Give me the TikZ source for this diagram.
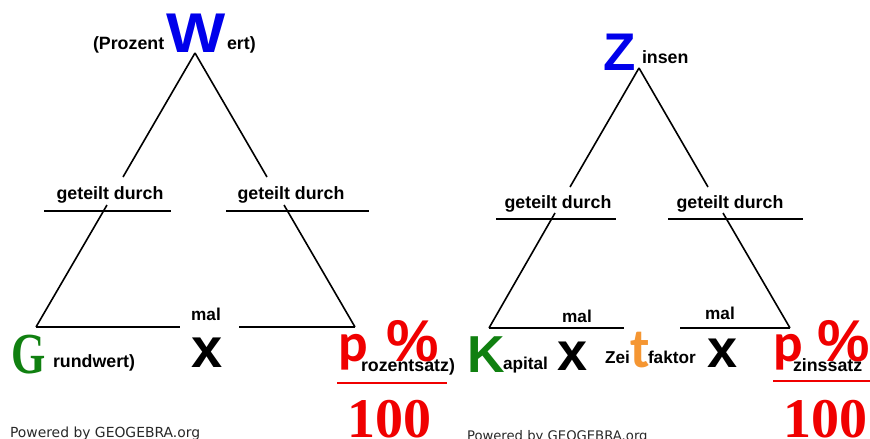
\documentclass[tikz,border=0pt]{standalone}
\usepackage{graphicx}
\usepackage{fontspec}
\setmainfont{Liberation Sans}
\newfontfamily\serfam{Liberation Serif}
\newfontfamily\carlfam{Carlito}
\newfontfamily\dvsfam{DejaVu Sans}
\definecolor{wblue}{RGB}{0,0,235}
\definecolor{ggreen}{RGB}{16,128,16}
\definecolor{pred}{RGB}{240,0,0}
\definecolor{torange}{RGB}{245,150,50}
\definecolor{ggray}{RGB}{40,40,40}
\begin{document}
\begin{tikzpicture}[x=1pt,y=-1pt,
  txt/.style={inner sep=0pt, outer sep=0pt, anchor=base west},
  ctxt/.style={inner sep=0pt, outer sep=0pt, anchor=base},
  lab/.style={font=\fontsize{17.8}{20}\selectfont\bfseries},
  small/.style={font=\fontsize{17.2}{20}\selectfont\bfseries},
  bigbold/.style={font=\fontsize{#1}{#1}\selectfont\bfseries},
  tri/.style={line width=1.6pt, black},
  frac/.style={line width=2pt, pred},
  pcal/.style={font=\fontsize{55}{55}\selectfont\carlfam\bfseries, text=pred},
  pct/.style={font=\fontsize{59}{59}\selectfont\bfseries, text=pred},
  hundred/.style={font=\fontsize{56}{56}\selectfont\serfam\bfseries, text=pred},
  powered/.style={text=ggray}
]
\clip (0,0) rectangle (870,439);
\fill[white] (0,0) rectangle (870,439);

% ---------- left triangle ----------
\node[txt, lab] (prz) at (93,49) {(Prozent};
\node[txt, font=\fontsize{56}{56}\selectfont\bfseries, text=wblue] (W) at (166,52) {\scalebox{1.12}[1]{W}};
\node[txt, lab] (ert) at (227,49) {ert)};

\coordinate (LA) at (195,53);
\coordinate (La1) at (123,177);
\coordinate (La2) at (107,205);
\coordinate (LBL) at (36,327);
\coordinate (Lb1) at (267,177);
\coordinate (Lb2) at (284,205);
\coordinate (LBR) at (355,327);
\coordinate (Lm1) at (180,327);
\coordinate (Lm2) at (239,327);
\coordinate (Lg1a) at (44,211);
\coordinate (Lg1b) at (171,211);
\coordinate (Lg2a) at (226,211);
\coordinate (Lg2b) at (369,211);

\draw[tri] (LA) -- (La1);
\draw[tri] (La2) -- (LBL);
\draw[tri] (LA) -- (Lb1);
\draw[tri] (Lb2) -- (LBR);
\draw[tri] (LBL) -- (Lm1);
\draw[tri] (Lm2) -- (LBR);
\draw[tri] (Lg1a) -- (Lg1b);
\draw[tri] (Lg2a) -- (Lg2b);

\node[ctxt, lab] (Lgd1) at (110,199) {geteilt durch};
\node[ctxt, lab] (Lgd2) at (291,199) {geteilt durch};
\node[ctxt, small] (Lmal) at (206,320) {mal};
\node[ctxt, bigbold=56] (Lx) at (207,367) {x};

\node[txt, font=\fontsize{58}{58}\selectfont\serfam\bfseries, text=ggreen] (G) at (12,373) {\scalebox{0.76}[1]{G}};
\node[txt, lab] (rund) at (53,367) {rundwert)};

\node[txt, pcal] (Lp) at (338,361) {p};
\node[txt, pct] (Lpct) at (386,361) {\%};
\node[txt, lab] (roz) at (361,371) {rozentsatz)};
\coordinate (Lf1) at (337,383);
\coordinate (Lf2) at (447,383);
\draw[frac] (Lf1) -- (Lf2);
\node[ctxt, hundred] (L100) at (389,437) {100};

\node[txt, powered, font=\fontsize{13.9}{14}\selectfont\dvsfam] (pw1) at (10,437) {Powered by GEOGEBRA.org};

% ---------- right triangle ----------
\node[txt, bigbold=53, text=wblue] (Z) at (603,70) {Z};
\node[txt, lab] (insen) at (642,63) {insen};

\coordinate (RA) at (639,68);
\coordinate (Ra1) at (570,187);
\coordinate (Ra2) at (555,213);
\coordinate (RBL) at (489,328);
\coordinate (Rb1) at (708,187);
\coordinate (Rb2) at (723,213);
\coordinate (RBR) at (790,328);
\coordinate (Rm1) at (624,328);
\coordinate (Rm2) at (680,328);
\coordinate (Rg1a) at (496,219);
\coordinate (Rg1b) at (616,219);
\coordinate (Rg2a) at (668,219);
\coordinate (Rg2b) at (803,219);

\draw[tri] (RA) -- (Ra1);
\draw[tri] (Ra2) -- (RBL);
\draw[tri] (RA) -- (Rb1);
\draw[tri] (Rb2) -- (RBR);
\draw[tri] (RBL) -- (Rm1);
\draw[tri] (Rm2) -- (RBR);
\draw[tri] (Rg1a) -- (Rg1b);
\draw[tri] (Rg2a) -- (Rg2b);

\node[ctxt, lab] (Rgd1) at (558,208) {geteilt durch};
\node[ctxt, lab] (Rgd2) at (730,208) {geteilt durch};
\node[ctxt, small] (Rmal1) at (577,322) {mal};
\node[ctxt, small] (Rmal2) at (720,319) {mal};
\node[ctxt, bigbold=54] (Rx1) at (573,370) {x};
\node[ctxt, bigbold=54] (Rx2) at (723,367) {x};

\node[txt, bigbold=52, text=ggreen] (K) at (467,372) {K};
\node[txt, small] (apital) at (503,369) {apital};
\node[txt, small] (zei) at (605,363) {Zei};
\node[txt, font=\fontsize{56}{56}\selectfont\carlfam\bfseries, text=torange] (t) at (630,367) {t};
\node[txt, small] (faktor) at (648,363) {faktor};

\node[txt, pcal] (Rp) at (773,361) {p};
\node[txt, pct] (Rpct) at (817,361) {\%};
\node[txt, lab] (zins) at (793,371) {zinssatz};
\coordinate (Rf1) at (773,381);
\coordinate (Rf2) at (875,381);
\draw[frac] (Rf1) -- (Rf2);
\node[txt, hundred] (R100) at (783,437) {100};

\node[txt, powered, font=\fontsize{13.2}{14}\selectfont\dvsfam] (pw2) at (467,440) {Powered by GEOGEBRA.org};
\end{tikzpicture}
\end{document}
